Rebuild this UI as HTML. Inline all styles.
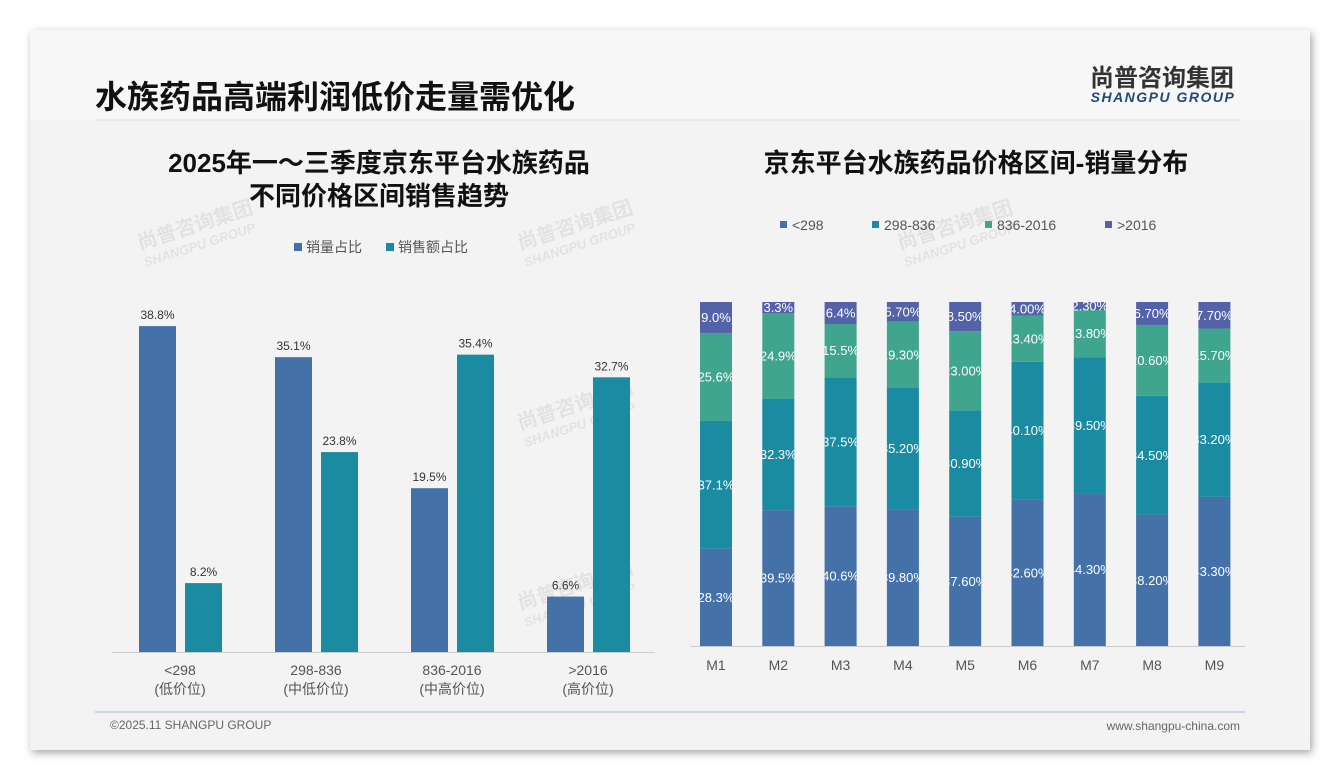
<!DOCTYPE html>
<html><head><meta charset="utf-8">
<style>
body{margin:0;width:1340px;height:780px;background:#fff;overflow:hidden;font-family:"Liberation Sans","Noto Sans CJK SC",sans-serif;}
#card{position:absolute;left:30px;top:30px;width:1280px;height:720px;background:#f3f3f3;box-shadow:2px 3px 8px rgba(0,0,0,0.35);}
svg{position:absolute;left:0;top:0;}
</style></head>
<body>
<div id="card"></div>
<svg width="1340" height="780" font-family="Liberation Sans, Noto Sans CJK SC, sans-serif">
  <rect x="30" y="30" width="1280" height="90" fill="#f7f7f7"/>
  <text x="95" y="108" font-size="32" font-weight="bold" fill="#111">水族药品高端利润低价走量需优化</text>
  <text x="1162" y="86" font-size="24" font-weight="bold" fill="#333" text-anchor="middle">尚普咨询集团</text>
  <text x="1163" y="102" font-size="14" font-weight="bold" font-style="italic" fill="#1d4a78" text-anchor="middle" letter-spacing="1.5">SHANGPU GROUP</text>
  <line x1="95" y1="120" x2="1240" y2="120" stroke="#ddd" stroke-width="1"/>
  <line x1="95" y1="712" x2="1245" y2="712" stroke="#9fb8d8" stroke-width="1"/>
  <text x="110" y="729" font-size="12" fill="#666">©2025.11 SHANGPU GROUP</text>
  <text x="1240" y="730" font-size="12" fill="#666" text-anchor="end">www.shangpu-china.com</text>
  <g fill="#d8d8d8" font-weight="bold" opacity="0.6">
    <g transform="translate(140,250) rotate(-18)"><text font-size="20">尚普咨询集团</text><text y="18" font-size="13" font-style="italic">SHANGPU GROUP</text></g>
    <g transform="translate(520,250) rotate(-18)"><text font-size="20">尚普咨询集团</text><text y="18" font-size="13" font-style="italic">SHANGPU GROUP</text></g>
    <g transform="translate(900,250) rotate(-18)"><text font-size="20">尚普咨询集团</text><text y="18" font-size="13" font-style="italic">SHANGPU GROUP</text></g>
    <g transform="translate(520,430) rotate(-18)"><text font-size="20">尚普咨询集团</text><text y="18" font-size="13" font-style="italic">SHANGPU GROUP</text></g>
    <g transform="translate(520,610) rotate(-18)"><text font-size="20">尚普咨询集团</text><text y="18" font-size="13" font-style="italic">SHANGPU GROUP</text></g>
  </g>
  <text x="379" y="172" font-size="26" font-weight="bold" fill="#111" text-anchor="middle">2025年一～三季度京东平台水族药品</text>
  <text x="379" y="205" font-size="26" font-weight="bold" fill="#111" text-anchor="middle">不同价格区间销售趋势</text>
  <g font-size="14" fill="#555">
    <rect x="294" y="243" width="8" height="8" fill="#4472a8"/>
    <text x="306" y="252">销量占比</text>
    <rect x="386" y="243" width="8" height="8" fill="#1a8ba0"/>
    <text x="398" y="252">销售额占比</text>
  </g>
  <text x="976" y="172" font-size="26" font-weight="bold" fill="#111" text-anchor="middle">京东平台水族药品价格区间-销量分布</text>
  <g id="left"></g>
  <g id="right"></g>
</svg>
<script>
const leftCats = ["<298","298-836","836-2016",">2016"];
const leftSub = ["(低价位)","(中低价位)","(中高价位)","(高价位)"];
const volumeShare = [38.8,35.1,19.5,6.6];
const salesShare = [8.2,23.8,35.4,32.7];

const months = ["M1","M2","M3","M4","M5","M6","M7","M8","M9"];
const seriesNames = ["<298","298-836","836-2016",">2016"];
const s1 = [28.3,39.5,40.6,39.8,37.6,42.6,44.3,38.2,43.3];
const s2 = [37.1,32.3,37.5,35.2,30.9,40.1,39.5,34.5,33.2];
const s3 = [25.6,24.9,15.5,19.3,23.0,13.4,13.8,20.6,15.7];
const s4 = [9.0,3.3,6.4,5.7,8.5,4.0,2.3,6.7,7.7];
const s1Labels = ["28.3%","39.5%","40.6%","39.80%","37.60%","42.60%","44.30%","38.20%","43.30%"];
const s2Labels = ["37.1%","32.3%","37.5%","35.20%","30.90%","40.10%","39.50%","34.50%","33.20%"];
const s3Labels = ["25.6%","24.9%","15.5%","19.30%","23.00%","13.40%","13.80%","20.60%","15.70%"];
const s4Labels = ["9.0%","3.3%","6.4%","5.70%","8.50%","4.00%","2.30%","6.70%","7.70%"];

const NS="http://www.w3.org/2000/svg";
function mk(tag,attrs,parent,txt){const e=document.createElementNS(NS,tag);for(const k in attrs)e.setAttribute(k,attrs[k]);if(txt!==undefined)e.textContent=txt;parent.appendChild(e);return e;}

const L=document.getElementById('left');
const lBase=652, lScale=8.4;
const ly=v=>lBase-v*lScale;
const gx=i=>139+i*136;
mk('line',{x1:112,y1:lBase+0.5,x2:655,y2:lBase+0.5,stroke:'#ccc'},L);
leftCats.forEach((c,i)=>{
  const x=gx(i);
  const b1=mk('rect',{x:x,y:ly(volumeShare[i]),width:37,height:volumeShare[i]*lScale,fill:'#4472a8'},L);
  
  
  const b2=mk('rect',{x:x+46,y:ly(salesShare[i]),width:37,height:salesShare[i]*lScale,fill:'#1a8ba0'},L);
  
  
  const t1=mk('text',{x:x+18.5,y:ly(volumeShare[i])-7,'font-size':12,fill:'#333','text-anchor':'middle'},L,volumeShare[i].toFixed(1)+'%');
  
  
  const t2=mk('text',{x:x+64.5,y:ly(salesShare[i])-7,'font-size':12,fill:'#333','text-anchor':'middle'},L,salesShare[i].toFixed(1)+'%');
  
  
  const c1=mk('text',{x:x+41,y:675,'font-size':14,fill:'#555','text-anchor':'middle'},L,c);
  
  
  const c2=mk('text',{x:x+41,y:694,'font-size':14,fill:'#555','text-anchor':'middle'},L,leftSub[i]);
  
  
});

const R=document.getElementById('right');
const rBase=646, rH=344;
const colors=['#4472a8','#1a8ba0','#3fa58e','#5463a8'];
const legX=[780,872,985,1105];
seriesNames.forEach((n,k)=>{
  const sw=mk('rect',{x:legX[k],y:221,width:7,height:7,fill:colors[k]},R);
  
  
  const t=mk('text',{x:legX[k]+12,y:230,'font-size':14,fill:'#555'},R,n);
  
  
});
mk('line',{x1:690,y1:rBase+0.5,x2:1245,y2:rBase+0.5,stroke:'#ccc'},R);
const series=[s1,s2,s3,s4], labels=[s1Labels,s2Labels,s3Labels,s4Labels];
const defs=mk('defs',{},R);
const cx=i=>716+i*62.3;
months.forEach((m,i)=>{
  const tot=s1[i]+s2[i]+s3[i]+s4[i];
  const sc=rH/tot;
  const x=cx(i)-16;
  const cp=mk('clipPath',{id:'cp'+i},defs);
  mk('rect',{x:x,y:rBase-rH-10,width:32,height:rH+10},cp);
  let y=rBase;
  series.forEach((s,k)=>{
    const h=s[i]*sc;
    y-=h;
    const r=mk('rect',{x:x,y:y,width:32,height:h,fill:colors[k]},R);
    
    
    const t=mk('text',{x:cx(i),y:y+h/2+4.5,'font-size':13,fill:'#fff','text-anchor':'middle','clip-path':'url(#cp'+i+')'},R,labels[k][i]);
    
    
  });
  const ml=mk('text',{x:cx(i),y:670,'font-size':14,fill:'#555','text-anchor':'middle'},R,m);
  
  
});
</script>
</body></html>
